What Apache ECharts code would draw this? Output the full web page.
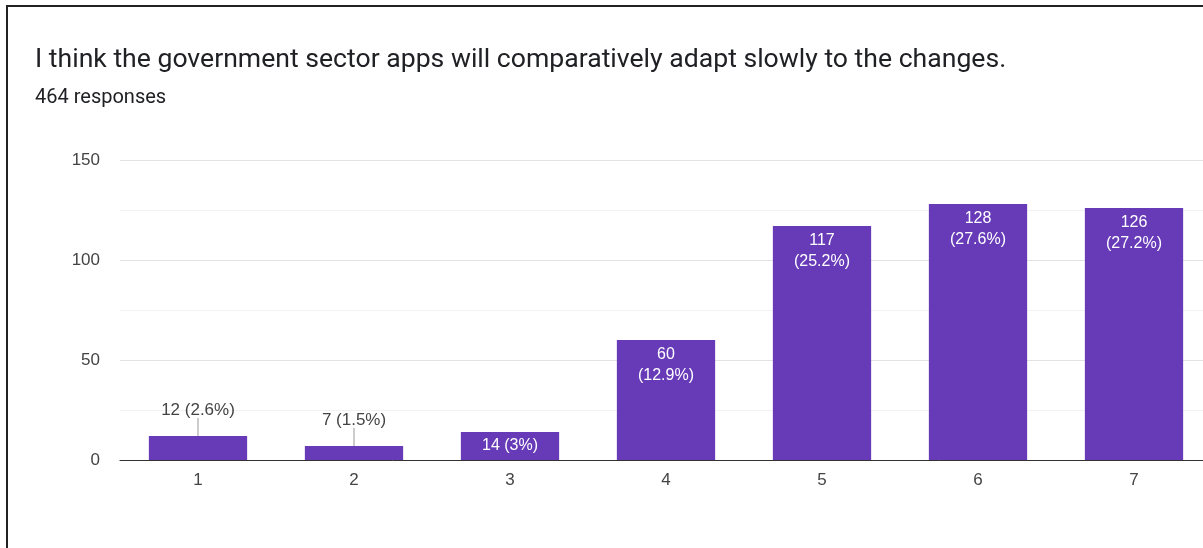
<!DOCTYPE html>
<html>
<head>
<meta charset="utf-8">
<title>Survey response chart</title>
<script src="https://cdn.jsdelivr.net/npm/echarts@6/dist/echarts.min.js"></script>
<style>
  html, body { margin: 0; padding: 0; background: #fff; overflow: hidden; }
  #frame {
    position: absolute; left: 6px; top: 5px; width: 1240px; height: 600px;
    border-left: 2px solid #222; border-top: 2px solid #222; box-sizing: border-box;
  }
  #chart { position: absolute; left: 0; top: 0; width: 1240px; height: 548px; }
</style>
</head>
<body>
<div id="frame"></div>
<div id="chart"></div>
<script>
// Answer scale 1..7 and the number of responses for each
const categories = ['1', '2', '3', '4', '5', '6', '7'];
const counts = [12, 7, 14, 60, 117, 128, 126];
const percents = ['2.6%', '1.5%', '3%', '12.9%', '25.2%', '27.6%', '27.2%'];
const yTicks = [0, 50, 100, 150];

const titleText = 'I think the government sector apps will comparatively adapt slowly to the changes.';
const subtitleText = '464 responses';

const BAR_COLOR = '#673ab7';
const TEXT_DARK = '#444';
const TITLE_FONT = 'Roboto, Arial, sans-serif';
const FONT = '"Liberation Sans", Arial, sans-serif';
const LABEL_SIZE = 17;

// Small bars get their label above with a short leader line
const OUTSIDE_LIMIT = 13;

function insideLabel(i) {
  if (counts[i] < OUTSIDE_LIMIT) return { show: false };
  const tall = counts[i] > 40;
  return {
    show: true,
    position: tall ? 'insideTop' : 'inside',
    distance: 4,
    color: '#fff',
    fontFamily: FONT,
    fontSize: LABEL_SIZE - 1,
    lineHeight: 21,
    formatter: tall ? counts[i] + '\n(' + percents[i] + ')' : counts[i] + ' (' + percents[i] + ')'
  };
}

const chart = echarts.init(document.getElementById('chart'), null, { renderer: 'canvas' });

chart.setOption({
  animation: false,
  backgroundColor: 'transparent',
  title: [
    {
      text: titleText,
      left: 30, top: 42,
      textStyle: { color: '#202124', fontFamily: TITLE_FONT, fontSize: 26.6, fontWeight: 'normal' }
    },
    {
      text: subtitleText,
      left: 30, top: 83,
      textStyle: { color: '#202124', fontFamily: TITLE_FONT, fontSize: 20, fontWeight: 'normal' }
    }
  ],
  grid: { left: 120, top: 160, width: 1092, height: 300, containLabel: false },
  xAxis: {
    type: 'category',
    data: categories,
    axisLine: { lineStyle: { color: '#333', width: 1 } },
    axisTick: { show: false },
    axisLabel: { color: TEXT_DARK, fontFamily: FONT, fontSize: LABEL_SIZE, margin: 12 }
  },
  yAxis: {
    type: 'value',
    min: yTicks[0],
    max: yTicks[yTicks.length - 1],
    interval: yTicks[1] - yTicks[0],
    axisLine: { show: false },
    axisTick: { show: false },
    axisLabel: { color: TEXT_DARK, fontFamily: FONT, fontSize: LABEL_SIZE, margin: 20 },
    splitLine: { show: true, lineStyle: { color: '#e3e3e3', width: 1 } },
    minorTick: { show: false, splitNumber: 2 },
    minorSplitLine: { show: true, lineStyle: { color: '#f2f2f2', width: 1 } }
  },
  series: [
    {
      type: 'bar',
      barWidth: '63%',
      itemStyle: { color: BAR_COLOR },
      data: counts.map((v, i) => ({ value: v, label: insideLabel(i) })),
      z: 2
    },
    {
      // labels above the short bars, joined to the bar by a thin line
      type: 'custom',
      data: counts.map((v, i) => [i, v]),
      z: 3,
      silent: true,
      renderItem: function (params, api) {
        const v = api.value(1);
        if (v >= OUTSIDE_LIMIT) return null;
        const idx = api.value(0);
        const p = api.coord([idx, v]);
        return {
          type: 'group',
          children: [
            {
              type: 'line',
              shape: { x1: p[0], y1: p[1], x2: p[0], y2: p[1] - 18 },
              style: { stroke: '#999', lineWidth: 1 }
            },
            {
              type: 'text',
              style: {
                x: p[0], y: p[1] - 17,
                text: counts[idx] + ' (' + percents[idx] + ')',
                fill: TEXT_DARK,
                font: LABEL_SIZE + 'px ' + FONT,
                align: 'center',
                verticalAlign: 'bottom'
              }
            }
          ]
        };
      }
    }
  ]
});
</script>
</body>
</html>
